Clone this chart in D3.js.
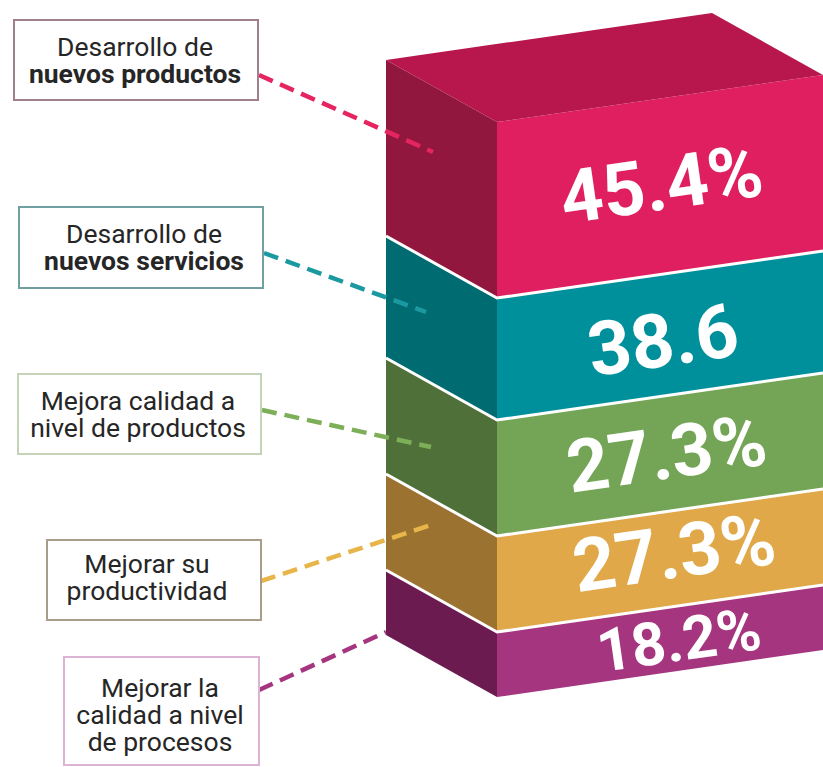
<!DOCTYPE html>
<html>
<head>
<meta charset="utf-8">
<script src="https://cdn.jsdelivr.net/npm/d3@7"></script>
<style>
  html, body { margin: 0; padding: 0; background: #fff; }
  svg { display: block; }
  text { font-family: Roboto, sans-serif; }
</style>
</head>
<body>
<div id="chart"></div>
<script>
// layers listed top to bottom, same order as the callouts
const categories = [
  ['Desarrollo de', 'nuevos productos'],
  ['Desarrollo de', 'nuevos servicios'],
  ['Mejora calidad a', 'nivel de productos'],
  ['Mejorar su', 'productividad'],
  ['Mejorar la', 'calidad a nivel', 'de procesos']
];
const values = [45.4, 38.6, 27.3, 27.3, 18.2];
const valueLabels = ['45.4%', '38.6', '27.3%', '27.3%', '18.2%'];
const boldLine = [1, 1, -1, -1, -1];

const frontColors = ['#df1f5f', '#00909b', '#74a556', '#e0a848', '#a6357f'];
const sideColors = ['#92173f', '#006b70', '#4f7038', '#9c7230', '#6b1b50'];
const lineColors = ['#e6245f', '#1a9aa0', '#7daf58', '#e8b54a', '#a6357f'];
const borderColors = ['#a07f8c', '#6f9fa0', '#c5d3b8', '#a79d8a', '#dcb3d4'];
const topColor = '#b7174d';

const width = 823;
const height = 767;

let svg = d3.select('#chart').append('svg')
  .attr('width', width)
  .attr('height', height);

// cumulative value, bottom of the block upward
let bottomUp = values.slice().reverse();
let cumulative = [0].concat(Array.from(d3.cumsum(bottomUp)));

// the original block is not drawn to proportion, so the scale is piecewise
let y = d3.scaleLinear()
  .domain(cumulative)
  .range([697, 632, 536, 420, 298, 122]);

// projections of the front corner edge onto the two visible faces
let frontX = d3.scaleLinear().domain([0, 1]).range([497, 823]);
let frontRise = d3.scaleLinear().domain([0, 1]).range([0, 47]);
let sideX = d3.scaleLinear().domain([0, 1]).range([497, 386]);
let sideRise = d3.scaleLinear().domain([0, 1]).range([0, 62]);

let line = d3.line();

function frontPoint(v, t) {
  return [frontX(t), y(v) - frontRise(t)];
}
function sidePoint(v, t) {
  return [sideX(t), y(v) - sideRise(t)];
}

let layers = values.map((v, i) => {
  let k = values.length - 1 - i;
  return {index: i, low: cumulative[k], high: cumulative[k + 1]};
});

let block = svg.append('g').attr('class', 'block');

block.selectAll('.side')
  .data(layers)
  .enter().append('path')
  .attr('class', 'side')
  .attr('fill', d => sideColors[d.index])
  .attr('d', d => line([sidePoint(d.low, 0), sidePoint(d.low, 1), sidePoint(d.high, 1), sidePoint(d.high, 0)]) + 'Z');

block.selectAll('.front')
  .data(layers)
  .enter().append('path')
  .attr('class', 'front')
  .attr('fill', d => frontColors[d.index])
  .attr('d', d => line([frontPoint(d.low, 0), frontPoint(d.low, 1), frontPoint(d.high, 1), frontPoint(d.high, 0)]) + 'Z');

// top face is a parallelogram spanned by the two projections
let total = cumulative[cumulative.length - 1];
let topLeft = sidePoint(total, 1);
let topRight = frontPoint(total, 1);
let topBack = [topLeft[0] + topRight[0] - frontX(0), topLeft[1] + topRight[1] - y(total)];
block.append('path')
  .attr('fill', topColor)
  .attr('d', line([frontPoint(total, 0), topLeft, topBack, topRight]) + 'Z');

// white separators between layers
block.selectAll('.separator')
  .data(cumulative.slice(1, -1))
  .enter().append('path')
  .attr('class', 'separator')
  .attr('fill', 'none')
  .attr('stroke', '#fff')
  .attr('stroke-width', 3)
  .attr('d', d => line([sidePoint(d, 1), sidePoint(d, 0), frontPoint(d, 1)]));

// value labels sit on the front face, tilted with it
let angle = Math.atan2(frontRise(1), frontX(1) - frontX(0)) * 180 / Math.PI;
let labelT = [0.504, 0.509, 0.52, 0.543, 0.558];
let labelNudge = [-2, 5, 0, -6, 2];
let labelSize = [74, 75, 73, 74, 60];

block.selectAll('.value')
  .data(layers)
  .enter().append('text')
  .attr('class', 'value')
  .attr('text-anchor', 'middle')
  .attr('dominant-baseline', 'central')
  .attr('font-weight', 700)
  .attr('font-size', d => labelSize[d.index])
  .attr('fill', '#fff')
  .attr('transform', d => {
    let t = labelT[d.index];
    let mid = (frontPoint(d.low, t)[1] + frontPoint(d.high, t)[1]) / 2 + labelNudge[d.index];
    return 'translate(' + frontX(t) + ',' + mid + ') rotate(' + (-angle) + ')';
  })
  .text(d => valueLabels[d.index]);

// callout boxes, dashed leaders and their text
let boxes = [
  {x: 14, y: 20, w: 244, h: 80, textX: 135, base: 56, from: [259, 75], to: [433, 152]},
  {x: 19, y: 207, w: 244, h: 81, textX: 144, base: 243, from: [264, 253], to: [426, 312]},
  {x: 18, y: 374, w: 243, h: 80, textX: 138, base: 410, from: [262, 410], to: [431, 447]},
  {x: 47, y: 540, w: 214, h: 80, textX: 147, base: 573, from: [261, 581], to: [431, 525]},
  {x: 64, y: 657, w: 195, h: 108, textX: 160, base: 697, from: [259, 690], to: [386, 632]}
];

let callouts = svg.selectAll('.callout')
  .data(boxes)
  .enter().append('g')
  .attr('class', 'callout');

callouts.append('path')
  .attr('fill', 'none')
  .attr('stroke', (d, i) => lineColors[i])
  .attr('stroke-width', 4.5)
  .attr('stroke-dasharray', '15 8')
  .attr('d', d => line([d.from, d.to]));

callouts.append('rect')
  .attr('x', d => d.x)
  .attr('y', d => d.y)
  .attr('width', d => d.w)
  .attr('height', d => d.h)
  .attr('fill', '#fff')
  .attr('stroke', (d, i) => borderColors[i])
  .attr('stroke-width', 2);

callouts.each(function (d, i) {
  d3.select(this).selectAll('text')
    .data(categories[i])
    .enter().append('text')
    .attr('x', d.textX)
    .attr('y', (s, j) => d.base + j * 27)
    .attr('text-anchor', 'middle')
    .attr('font-size', 26.5)
    .attr('font-weight', (s, j) => j === boldLine[i] ? 700 : 400)
    .attr('fill', '#262626')
    .text(s => s);
});
</script>
</body>
</html>
